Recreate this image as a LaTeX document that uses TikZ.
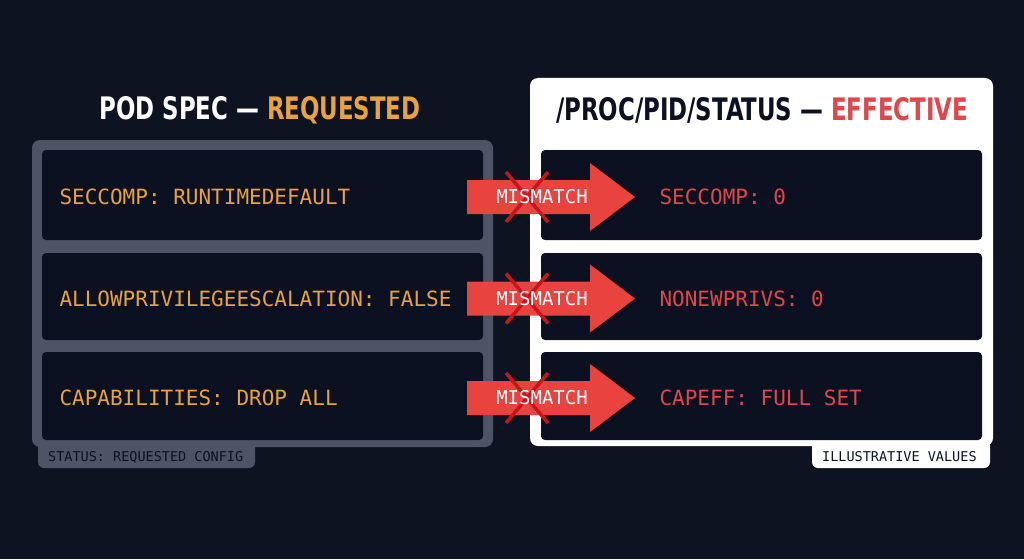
\documentclass[tikz,border=0pt]{standalone}
\usepackage{fontspec}
\setmonofont{DejaVu Sans Mono}
\newfontfamily\titlefont{DejaVu Sans Condensed}
\begin{document}
\definecolor{bg}{HTML}{0E1322}
\definecolor{panelgray}{HTML}{4C5466}
\definecolor{inner}{HTML}{0B1120}
\definecolor{org}{HTML}{E8A23E}
\definecolor{redt}{HTML}{E0474A}
\definecolor{arr}{HTML}{E8433F}
\definecolor{xred}{HTML}{C8141B}
\begin{tikzpicture}[x=1pt,y=-1pt,
  innerbox/.style={fill=inner,rounded corners=4pt},
  lt/.style={anchor=west,font=\ttfamily\fontsize{21}{21}\selectfont,text=org},
  rt/.style={anchor=west,font=\ttfamily\fontsize{21}{21}\selectfont,text=redt},
  tag/.style={font=\ttfamily\fontsize{13.5}{13.5}\selectfont,inner sep=0pt},
  lab/.style={font=\ttfamily\fontsize{19}{19}\selectfont,text=white},
  ttl/.style={font=\titlefont\bfseries\fontsize{31}{31}\selectfont,xscale=0.82},
  xs/.style={draw=xred,line width=3.5pt}]
\fill[bg] (0,0) rectangle (1024,559);
\useasboundingbox (0,0) rectangle (1024,559);
% left panel
\fill[panelgray,rounded corners=6pt] (38,440) rectangle (255,468);
\fill[panelgray,rounded corners=8pt] (32,140) rectangle (493,447);
\node[tag,anchor=west,text=inner] (ltag) at (48,457) {STATUS: REQUESTED CONFIG};
% right panel
\fill[white,rounded corners=6pt] (812,440) rectangle (990,468);
\fill[white,rounded corners=8pt] (530,78) rectangle (993,446);
\node[tag,anchor=west,text=inner] (rtag) at (822,457) {ILLUSTRATIVE VALUES};
% titles
\node[ttl,text=white] (lt) at (260,110) {POD SPEC — \textcolor{org}{REQUESTED}};
\node[ttl,text=inner] (rtt) at (762,110) {/PROC/PID/STATUS — \textcolor{redt}{EFFECTIVE}};
% rows
\foreach \i/\ya/\yb/\lt/\rt in {1/150/240/{SECCOMP: RUNTIMEDEFAULT}/{SECCOMP: 0},
  2/253/340/{ALLOWPRIVILEGEESCALATION: FALSE}/{NONEWPRIVS: 0},
  3/352/440/{CAPABILITIES: DROP ALL}/{CAPEFF: FULL SET}}{
  \fill[innerbox] (42,\ya) rectangle (483,\yb);
  \fill[innerbox] (541,\ya) rectangle (982,\yb);
  \pgfmathsetmacro\ym{(\ya+\yb)/2+2}
  \node[lt] (l\i) at (56,\ym) {\lt};
  \node[rt] (r\i) at (656,\ym) {\rt};
  \fill[arr] (467,\ym-17) -- (590,\ym-17) -- (590,\ym-34) -- (635,\ym) -- (590,\ym+34) -- (590,\ym+17) -- (467,\ym+17) -- cycle;
  \draw[xs] (506,\ym-25) -- (548,\ym+25);
  \draw[xs] (548,\ym-25) -- (506,\ym+25);
  \node[lab] (m\i) at (542,\ym) {MISMATCH};
}
\end{tikzpicture}
\end{document}
